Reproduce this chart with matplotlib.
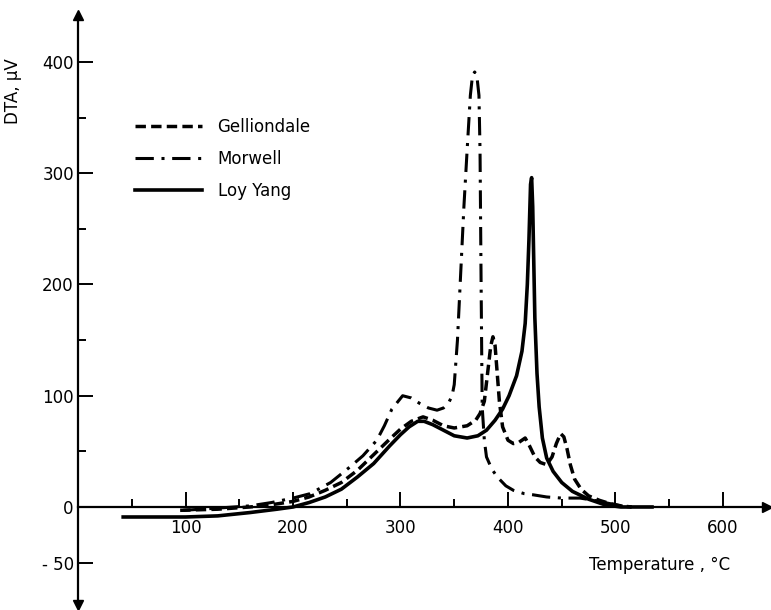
import matplotlib
matplotlib.use("Agg")
import matplotlib.pyplot as plt

# Gelliondale (dashed)
gell_temp = [95, 130, 160, 180, 200, 215, 230, 245, 260, 275, 290, 300, 310, 321, 330,
             340, 350, 362, 370, 374, 378, 381, 384, 386, 388, 390, 392, 395, 400, 405,
             410, 416, 420, 425, 430, 436, 441, 445, 449, 452, 455, 458, 462, 468, 475,
             485, 495, 505, 515]
gell_dta = [-3, -2, 0, 2, 5, 9, 15, 22, 33, 47, 61, 70, 77, 81, 78,
            73, 71, 73, 78, 84, 95, 120, 145, 153, 145, 120, 95, 72, 60, 57,
            58, 62, 55, 45, 40, 38, 45, 57, 66, 63, 52, 38, 25, 16, 10,
            6, 3, 1, 0]

# Morwell (dash-dot)
morw_temp = [98, 130, 160, 180, 200, 216, 235, 253, 265, 278, 285, 292, 302, 310, 318,
             326, 334, 340, 345, 348, 350, 353, 356, 359, 362, 365, 367, 369, 371, 373,
             374, 375, 376, 378, 380, 385, 390, 398, 405, 415, 423, 436, 450, 467, 480,
             495, 505, 515]
morw_dta = [-3, -1, 1, 4, 8, 12, 22, 36, 46, 60, 73, 88, 100, 98, 93,
            89, 87, 89, 94, 100, 110, 150, 210, 270, 321, 370, 388, 391, 388, 370,
            320, 200, 90, 60, 45, 34, 27, 19, 15, 12, 11, 9, 8, 8, 6,
            3, 1, 0]

# Loy Yang (solid)
loy_temp = [42, 100, 130, 160, 185, 200, 215, 230, 245, 260, 275, 290, 300, 308, 316,
            322, 330, 340, 350, 362, 372, 380, 388, 395, 401, 408, 413, 416, 418, 419.5,
            421, 422, 423, 424, 425, 427, 429, 432, 436, 442, 450, 460, 475, 490, 505,
            534]
loy_dta = [-9, -9, -8, -5, -2, 0, 4, 9, 16, 27, 39, 55, 65, 72, 77,
           77, 74, 69, 64, 62, 64, 69, 78, 88, 100, 118, 140, 165, 200, 240,
           290, 296, 270, 220, 170, 120, 90, 62, 44, 32, 22, 14, 7, 2, 0,
           0]

x_major = [100, 200, 300, 400, 500, 600]
x_minor = [50, 150, 250, 350, 450, 550]
y_major = [-50, 0, 100, 200, 300, 400]
y_labels = ["- 50", "0", "100", "200", "300", "400"]
y_minor = [50, 150, 250, 350]


def main():
    plt.rcParams["font.family"] = "DejaVu Sans"
    fig = plt.figure(figsize=(7.71, 6.10), dpi=100)
    ax = fig.add_axes([0, 0, 1, 1])
    ax.set_xlim(-72.6, 644.7)
    ax.set_ylim(-92.6, 455.7)

    ax.plot(gell_temp, gell_dta, color="black", lw=2.5, dashes=(3, 1.5),
            label="Gelliondale")
    ax.plot(morw_temp, morw_dta, color="black", lw=2.2, dashes=(6, 2.5, 1, 2.5),
            label="Morwell")
    ax.plot(loy_temp, loy_dta, color="black", lw=2.6, label="Loy Yang")

    # axes through the origin, with arrow heads
    for side in ["top", "right"]:
        ax.spines[side].set_visible(False)
    ax.spines["left"].set_position(("data", 0))
    ax.spines["bottom"].set_position(("data", 0))
    ax.spines["left"].set_bounds(-86, 440)
    ax.spines["bottom"].set_bounds(0, 638)
    ax.spines["left"].set_linewidth(1.6)
    ax.spines["bottom"].set_linewidth(1.6)
    ax.plot(0, 442, "^k", ms=7, clip_on=False)
    ax.plot(0, -88, "vk", ms=7, clip_on=False)
    ax.plot(641, 0, ">k", ms=7, clip_on=False)

    ax.set_xticks(x_major)
    ax.set_xticks(x_minor, minor=True)
    ax.set_yticks(y_major)
    ax.set_yticklabels(y_labels)
    ax.set_yticks(y_minor, minor=True)
    ax.tick_params(which="major", direction="in", length=11, width=1.4,
                   labelsize=12)
    ax.tick_params(which="minor", direction="in", length=6, width=1.4)
    ax.tick_params(axis="x", which="major", pad=9)
    ax.tick_params(axis="y", which="major", pad=3)

    ax.set_xlabel("Temperature , \u00b0C", fontsize=12)
    ax.xaxis.set_label_coords(0.855, 0.088)
    ax.set_ylabel("DTA, \u00b5V", fontsize=12)
    ax.yaxis.set_label_coords(0.028, 0.85)

    ax.legend(loc="upper left", bbox_to_anchor=(135 / 771, 1 - 118 / 610),
              frameon=False, fontsize=12, handlelength=4.0, handletextpad=0.95,
              labelspacing=0.85, borderpad=0, borderaxespad=0)

    fig.savefig("out.png", dpi=100)


if __name__ == "__main__":
    main()
